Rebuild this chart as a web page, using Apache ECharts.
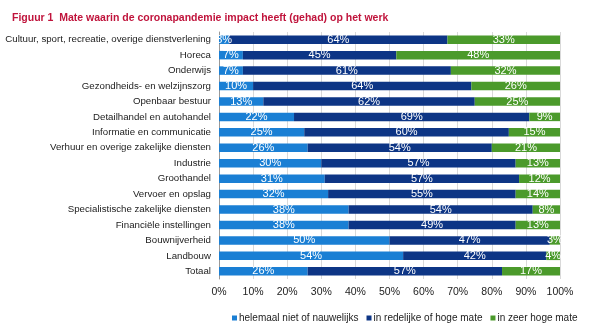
<!DOCTYPE html>
<html><head><meta charset="utf-8">
<script src="https://cdn.jsdelivr.net/npm/echarts@6/dist/echarts.min.js"></script>
<style>html,body{margin:0;padding:0;background:#fff}#c{width:600px;height:331px}</style>
</head><body><div id="c"></div>
<script>
const titleText = 'Figuur 1  Mate waarin de coronapandemie impact heeft (gehad) op het werk';
const categories = ['Cultuur, sport, recreatie, overige dienstverlening','Horeca','Onderwijs','Gezondheids- en welzijnszorg','Openbaar bestuur','Detailhandel en autohandel','Informatie en communicatie','Verhuur en overige zakelijke diensten','Industrie','Groothandel','Vervoer en opslag','Specialistische zakelijke diensten','Financiële instellingen','Bouwnijverheid','Landbouw','Totaal'];
const seriesNames = ['helemaal niet of nauwelijks','in redelijke of hoge mate','in zeer hoge mate'];
const nietValues = [3,7,7,10,13,22,25,26,30,31,32,38,38,50,54,26];
const redelijkValues = [64,45,61,64,62,69,60,54,57,57,55,54,49,47,42,57];
const zeerValues = [33,48,32,26,25,9,15,21,13,12,14,8,13,3,4,17];
const colors = ['#1a7fd4','#0d3585','#4b9a2b'];
const font = 'Liberation Sans';
const chart = echarts.init(document.getElementById('c'));
const mk = (name, data, color) => ({
  name, type: 'bar', stack: 't', data, barCategoryGap: '45%',
  itemStyle: {color},
  label: {show: true, position: 'inside', formatter: '{c}%', color: '#fff', fontFamily: font, fontSize: 11},
  emphasis: {disabled: true}
});
chart.setOption({
  animation: false,
  title: {text: titleText, left: 7, top: 8, textStyle: {color: '#c0143c', fontFamily: font, fontSize: 10.5, fontWeight: 'bold'}},
  grid: {left: 219, right: 40, top: 32, bottom: 52, containLabel: false, outerBoundsMode: 'none'},
  xAxis: {type: 'value', min: 0, max: 100, interval: 10,
    axisLabel: {formatter: '{value}%', color: '#222', fontFamily: font, fontSize: 10.5, margin: 8},
    splitLine: {lineStyle: {color: '#d9d9d9'}}, axisLine: {show: false}, axisTick: {show: false}},
  yAxis: {type: 'category', inverse: true, data: categories,
    axisLabel: {color: '#222', fontFamily: font, fontSize: 9.7, margin: 8},
    axisLine: {lineStyle: {color: '#999'}}, axisTick: {show: false}},
  legend: {top: 313, left: 232, width: 368, padding: 0, itemWidth: 5, itemHeight: 5, itemGap: 8, icon: 'rect',
    textStyle: {color: '#222', fontFamily: font, fontSize: 10, padding: [0,0,0,-3]}},
  series: [mk(seriesNames[0], nietValues, colors[0]), mk(seriesNames[1], redelijkValues, colors[1]), mk(seriesNames[2], zeerValues, colors[2])]
});
</script></body></html>
